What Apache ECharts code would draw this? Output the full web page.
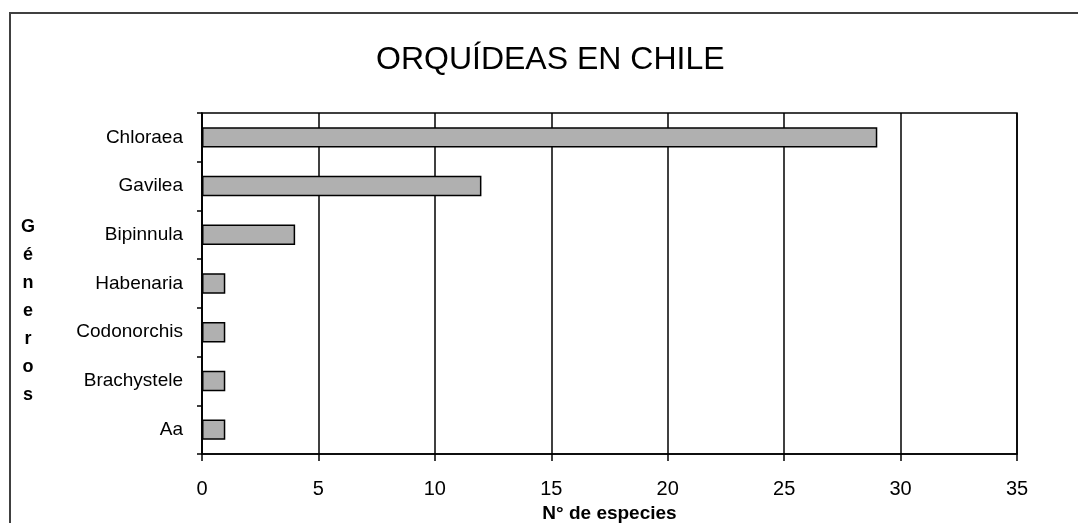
<!DOCTYPE html>
<html>
<head>
<meta charset="utf-8">
<script src="https://cdn.jsdelivr.net/npm/echarts@6/dist/echarts.min.js"></script>
<style>
  html, body { margin: 0; padding: 0; background: #fff; }
  #chart { width: 1078px; height: 523px; }
</style>
</head>
<body>
<div id="chart"></div>
<script>
// Orchid genera of Chile and their number of species
const generos = ['Chloraea', 'Gavilea', 'Bipinnula', 'Habenaria', 'Codonorchis', 'Brachystele', 'Aa'];
const especies = [29, 12, 4, 1, 1, 1, 1];
const tituloGrafico = 'ORQUÍDEAS EN CHILE';
const tituloEjeX = 'N° de especies';
const tituloEjeY = 'Géneros';

const FONT = '"Liberation Sans", Arial, sans-serif';

const chart = echarts.init(document.getElementById('chart'), null, { renderer: 'canvas' });

chart.setOption({
  backgroundColor: '#ffffff',
  animation: false,
  title: {
    text: tituloGrafico,
    left: 371,
    top: 39,
    textStyle: { fontFamily: FONT, fontSize: 32, fontWeight: 'normal', color: '#000' }
  },
  graphic: [{
    type: 'rect',
    silent: true,
    shape: { x: 10, y: 13, width: 1200, height: 700 },
    style: { fill: 'none', stroke: '#404040', lineWidth: 2 }
  }],
  grid: {
    left: 202, right: 61, top: 113, bottom: 69,
    containLabel: false,
    outerBoundsMode: 'none',
    show: true,
    borderColor: '#000',
    borderWidth: 1.5
  },
  xAxis: {
    type: 'value',
    min: 0, max: 35, interval: 5,
    name: tituloEjeX,
    nameLocation: 'middle',
    nameGap: 40,
    nameTextStyle: { fontFamily: FONT, fontSize: 19, fontWeight: 'bold', color: '#000' },
    axisLine: { show: true, lineStyle: { color: '#000', width: 1.5 } },
    axisTick: { show: true, length: 7, lineStyle: { color: '#000', width: 1.5 } },
    axisLabel: { fontFamily: FONT, fontSize: 20, color: '#000', margin: 25 },
    splitLine: { show: true, lineStyle: { color: '#000', width: 1.5 } }
  },
  yAxis: {
    type: 'category',
    data: generos,
    inverse: true,
    // stacked letters, two blank lines on top push the column down a little
    name: '\n\n' + tituloEjeY.split('').join('\n'),
    nameLocation: 'middle',
    nameRotate: 0,
    nameGap: 174,
    nameTextStyle: {
      fontFamily: FONT, fontSize: 18, fontWeight: 'bold', color: '#000',
      align: 'center', verticalAlign: 'middle', lineHeight: 28
    },
    axisLine: { show: true, lineStyle: { color: '#000', width: 1.5 } },
    axisTick: { show: true, length: 5, interval: 0, lineStyle: { color: '#000', width: 1.5 } },
    axisLabel: { fontFamily: FONT, fontSize: 19, color: '#000', margin: 19, interval: 0 },
    splitLine: { show: false }
  },
  series: [{
    type: 'bar',
    data: especies,
    barWidth: '42%',
    itemStyle: { color: '#b0b0b0', borderColor: '#000', borderWidth: 1.5 }
  }]
});
</script>
</body>
</html>
